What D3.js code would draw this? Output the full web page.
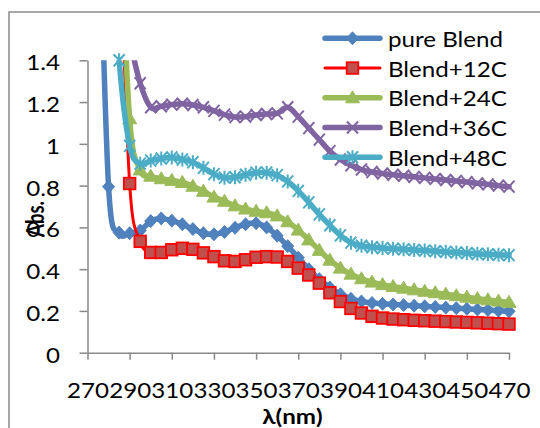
<!DOCTYPE html>
<html>
<head>
<meta charset="utf-8">
<script src="https://cdn.jsdelivr.net/npm/d3@7"></script>
<style>
  html, body { margin: 0; padding: 0; background: #fff; }
  svg { display: block; }
  text { font-family: Lato, "Noto Sans", sans-serif; fill: #000; }
</style>
</head>
<body>
<svg id="chart" width="540" height="428"></svg>
<script>
// Wavelength categories (nm)
const wavelength = [270, 275, 280, 285, 290, 295, 300, 305, 310, 315, 320, 325, 330, 335, 340,
  345, 350, 355, 360, 365, 370, 375, 380, 385, 390, 395, 400, 405, 410, 415, 420, 425, 430,
  435, 440, 445, 450, 455, 460, 465, 470];

// Absorbance per series (null = no reading)
const pureBlend = [3.6, 2.3, 0.795, 0.575, 0.572, 0.585, 0.63, 0.643, 0.632, 0.615, 0.592, 0.572,
  0.567, 0.578, 0.598, 0.615, 0.62, 0.6, 0.56, 0.51, 0.455, 0.4, 0.352, 0.312, 0.28, 0.258, 0.245,
  0.238, 0.234, 0.231, 0.228, 0.225, 0.222, 0.219, 0.216, 0.213, 0.21, 0.207, 0.204, 0.201, 0.198];
const blend12C = [null, null, 3.6, 2.1, 0.81, 0.533, 0.48, 0.48, 0.493, 0.5, 0.495, 0.478, 0.46,
  0.44, 0.437, 0.445, 0.457, 0.46, 0.458, 0.437, 0.405, 0.372, 0.333, 0.287, 0.245, 0.212, 0.19,
  0.174, 0.166, 0.161, 0.158, 0.155, 0.153, 0.151, 0.149, 0.147, 0.145, 0.143, 0.141, 0.139, 0.137];
const blend24C = [null, null, null, 2.2, 1.12, 0.875, 0.845, 0.833, 0.825, 0.815, 0.797, 0.773,
  0.745, 0.725, 0.703, 0.688, 0.677, 0.67, 0.655, 0.627, 0.587, 0.54, 0.49, 0.443, 0.405, 0.376,
  0.354, 0.338, 0.326, 0.317, 0.309, 0.301, 0.294, 0.287, 0.28, 0.273, 0.266, 0.259, 0.253, 0.247, 0.241];
const blend36C = [null, null, null, null, 1.5, 1.29, 1.175, 1.18, 1.188, 1.192, 1.186, 1.175, 1.158,
  1.14, 1.128, 1.13, 1.138, 1.143, 1.146, 1.175, 1.13, 1.075, 1.02, 0.965, 0.925, 0.897, 0.877,
  0.865, 0.858, 0.852, 0.847, 0.842, 0.837, 0.832, 0.827, 0.822, 0.817, 0.811, 0.806, 0.8, 0.795];
const blend48C = [null, null, 2.2, 1.4, 0.99, 0.905, 0.92, 0.93, 0.935, 0.925, 0.912, 0.885, 0.855,
  0.838, 0.84, 0.852, 0.862, 0.862, 0.85, 0.82, 0.775, 0.72, 0.662, 0.61, 0.562, 0.527, 0.512,
  0.505, 0.501, 0.498, 0.495, 0.492, 0.489, 0.486, 0.483, 0.48, 0.477, 0.474, 0.471, 0.469, 0.467];

const seriesNames = ["pure Blend", "Blend+12C", "Blend+24C", "Blend+36C", "Blend+48C"];
const xTickValues = [270, 290, 310, 330, 350, 370, 390, 410, 430, 450, 470];
const yTickValues = [0, 0.2, 0.4, 0.6, 0.8, 1, 1.2, 1.4];

const xTitle = "λ(nm)";
const yTitle = "Abs.";

// ---- drawing ----
const svg = d3.select("#chart");
const SX = 1.15;            // horizontal widening of all text
const FONT = 21;
const plot = { left: 87.5, right: 509, top: 60.3, bottom: 352.7 };

const x = d3.scaleLinear().domain([270, 470]).range([plot.left, plot.right]);
const y = d3.scaleLinear().domain([0, 1.4]).range([plot.bottom, plot.top]);

// outer chart border
svg.append("rect")
  .attr("x", 9).attr("y", 12).attr("width", 600).attr("height", 500)
  .attr("fill", "none").attr("stroke", "#8c8c8c").attr("stroke-width", 1.5);

const axisColor = "#888888";

// y axis
const gy = svg.append("g").attr("transform", `translate(${plot.left},0)`)
  .call(d3.axisLeft(y).tickValues(yTickValues).tickSize(8).tickSizeOuter(0)
    .tickFormat(d => String(+d.toFixed(1))));
gy.select(".domain").attr("stroke", axisColor).attr("stroke-width", 1.5);
gy.selectAll(".tick line").attr("stroke", axisColor).attr("stroke-width", 1.5);
gy.selectAll(".tick text")
  .attr("x", 0).attr("dy", null).attr("y", 0)
  .attr("font-size", FONT).attr("font-family", null).attr("fill", "#000")
  .attr("text-anchor", "end")
  .attr("transform", `translate(${60 - plot.left},9.5) scale(${SX},1)`);

// x axis
const gx = svg.append("g").attr("transform", `translate(0,${plot.bottom})`)
  .call(d3.axisBottom(x).tickValues(xTickValues).tickSize(7).tickSizeOuter(0));
gx.select(".domain").attr("stroke", axisColor).attr("stroke-width", 1.5);
gx.selectAll(".tick line").attr("stroke", axisColor).attr("stroke-width", 1.5);
gx.selectAll(".tick text")
  .attr("x", 0).attr("dy", null).attr("y", 0)
  .attr("font-size", FONT).attr("font-family", null).attr("fill", "#000")
  .attr("text-anchor", "middle")
  .attr("transform", `translate(0,45.6) scale(${SX},1)`);
svg.selectAll(".domain").attr("fill", "none");

// axis titles
svg.append("text")
  .attr("transform", `translate(${(plot.left + 507.5) / 2 - 5},424) scale(${SX},1)`)
  .attr("text-anchor", "middle").attr("font-size", FONT).attr("font-weight", "bold")
  .text(xTitle);
svg.append("text")
  .attr("transform", `translate(44,219) rotate(-90) scale(0.88,${SX})`)
  .attr("text-anchor", "middle").attr("font-size", FONT).attr("font-weight", "bold")
  .text(yTitle);

// series styling
const styles = [
  { values: pureBlend, color: "#4F81BD", width: 5.5, marker: "diamond" },
  { values: blend12C,  color: "#FF0000", width: 3,   marker: "square" },
  { values: blend24C,  color: "#9BBB59", width: 5.5, marker: "triangle" },
  { values: blend36C,  color: "#8064A2", width: 5.5, marker: "x" },
  { values: blend48C,  color: "#4BACC6", width: 5.5, marker: "star" }
];

function drawMarker(g, kind, color) {
  if (kind === "diamond") {
    g.append("path").attr("d", "M0,-6.5L6,0L0,6.5L-6,0Z").attr("fill", color).attr("stroke", color).attr("stroke-width", 1);
  } else if (kind === "square") {
    g.append("rect").attr("x", -5.8).attr("y", -5.8).attr("width", 11.6).attr("height", 11.6)
      .attr("fill", "#C0504D").attr("stroke", "#FF0000").attr("stroke-width", 1.8);
  } else if (kind === "triangle") {
    g.append("path").attr("d", "M0,-7L7,5L-7,5Z").attr("fill", color).attr("stroke", color).attr("stroke-width", 1);
  } else if (kind === "x") {
    g.append("path").attr("d", "M-5.5,-6L5.5,6M-5.5,6L5.5,-6").attr("stroke", color).attr("stroke-width", 2).attr("fill", "none");
  } else if (kind === "star") {
    g.append("path").attr("d", "M-5.5,-6L5.5,6M-5.5,6L5.5,-6M0,-7L0,7").attr("stroke", color).attr("stroke-width", 2).attr("fill", "none");
  }
}

svg.append("clipPath").attr("id", "plotClip")
  .append("rect").attr("x", plot.left).attr("y", plot.top)
  .attr("width", 540 - plot.left).attr("height", 380 - plot.top);

const line = d3.line()
  .defined(d => d.v !== null)
  .x(d => x(d.w)).y(d => y(d.v))
  .curve(d3.curveCardinal.tension(0));

const seriesLayer = svg.append("g");
styles.forEach(s => {
  const pts = wavelength.map((w, i) => ({ w, v: s.values[i] }));
  const g = seriesLayer.append("g");
  g.append("path").datum(pts)
    .attr("clip-path", "url(#plotClip)")
    .attr("d", line).attr("fill", "none")
    .attr("stroke", s.color).attr("stroke-width", s.width)
    .attr("stroke-linejoin", "round").attr("stroke-linecap", "round");
  pts.filter(p => p.v !== null && p.v <= 1.4001).forEach(p => {
    drawMarker(g.append("g").attr("transform", `translate(${x(p.w)},${y(p.v)})`), s.marker, s.color);
  });
});

// legend
const legend = svg.append("g");
seriesNames.forEach((name, i) => {
  const cy = 38.3 + i * 29.75;
  const s = styles[i];
  legend.append("line").attr("x1", 325).attr("x2", 380).attr("y1", cy).attr("y2", cy)
    .attr("stroke", s.color).attr("stroke-width", s.width).attr("stroke-linecap", "round");
  drawMarker(legend.append("g").attr("transform", `translate(352.5,${cy})`), s.marker, s.color);
  legend.append("text")
    .attr("transform", `translate(388,${cy + 8.5}) scale(${SX},1)`)
    .attr("font-size", FONT).text(name);
});
</script>
</body>
</html>
